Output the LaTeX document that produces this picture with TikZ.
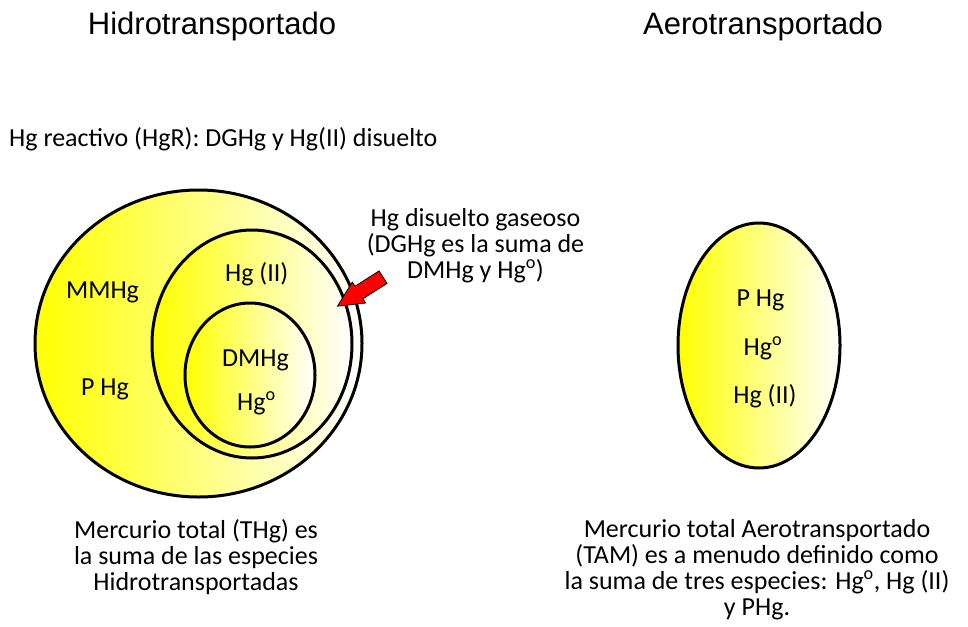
\documentclass[tikz,border=0pt]{standalone}
\usepackage{fontspec}
\setmainfont{Carlito}
\newfontfamily\titlefont{Liberation Sans}
\usetikzlibrary{shapes.geometric,shapes.arrows}
\tikzset{
  blob/.style={ellipse, draw=black, line width=3pt, left color=yellow, right color=white, inner sep=0pt},
  lbl/.style={anchor=base, inner sep=0pt, font=\fontsize{26}{26}\selectfont},
  para/.style={anchor=base, inner sep=0pt, align=center, font=\fontsize{26}{26}\selectfont},
  ttl/.style={anchor=base, inner sep=0pt, font=\titlefont\fontsize{31}{36}\selectfont},
  redarrow/.style={single arrow, draw=black, line width=0.8pt, fill=red, minimum width=24pt, minimum height=54pt,
    single arrow head extend=5pt, single arrow tip angle=52, single arrow head indent=0pt, inner xsep=0pt, inner ysep=7pt}
}
\begin{document}
\begin{tikzpicture}[x=1pt,y=-1pt]
\useasboundingbox (0,0) rectangle (968,626);
% titles
\node[ttl] (t1) at (212,34.5) {Hidrotransportado};
\node[ttl] (t2) at (763,34.5) {Aerotransportado};
\node[lbl, anchor=base west] (hgr) at (9,146.5) {Hg reactivo (HgR): DGHg y Hg(II) disuelto};
% left ellipses
\node[blob, minimum width=327pt, minimum height=307pt] (thg) at (198.5,343.5) {};
\node[blob, minimum width=200pt, minimum height=228pt] (hg2) at (252,344) {};
\node[blob, minimum width=130pt, minimum height=144pt] (dm) at (250,375) {};
\node[lbl] (mm) at (102.5,298) {MMHg};
\node[lbl] (ph) at (105,395) {P Hg};
\node[lbl] (h2) at (256.7,281.7) {Hg (II)};
\node[lbl] (dmh) at (255.5,366.7) {DMHg};
\node[lbl] (h0) at (256.5,410) {Hg\textsuperscript{o}};
% DGHg label and arrow
\node[para] (dg) at (475.5,278) {Hg disuelto gaseoso\\(DGHg es la suma de\\DMHg y Hg\textsuperscript{o})};
\coordinate (tipc) at (336.7,306.7);
\node[redarrow, rotate=212.5, anchor=tip] (arr) at (tipc) {};
% right ellipse
\node[blob, minimum width=162pt, minimum height=245pt] (tam) at (759,345.5) {};
\node[lbl] (rp) at (760.5,306.7) {P Hg};
\node[lbl] (r0) at (763,355) {Hg\textsuperscript{o}};
\node[lbl] (r2) at (765,403) {Hg (II)};
% bottom texts
\node[para] (bl) at (196,590) {Mercurio total (THg) es\\la suma de las especies\\Hidrotransportadas};
\node[para] (br) at (757,615) {Mercurio total Aerotransportado\\(TAM) es a menudo definido como\\la suma de tres especies: Hg\textsuperscript{o}, Hg (II)\\y PHg.};
\end{tikzpicture}
\end{document}
